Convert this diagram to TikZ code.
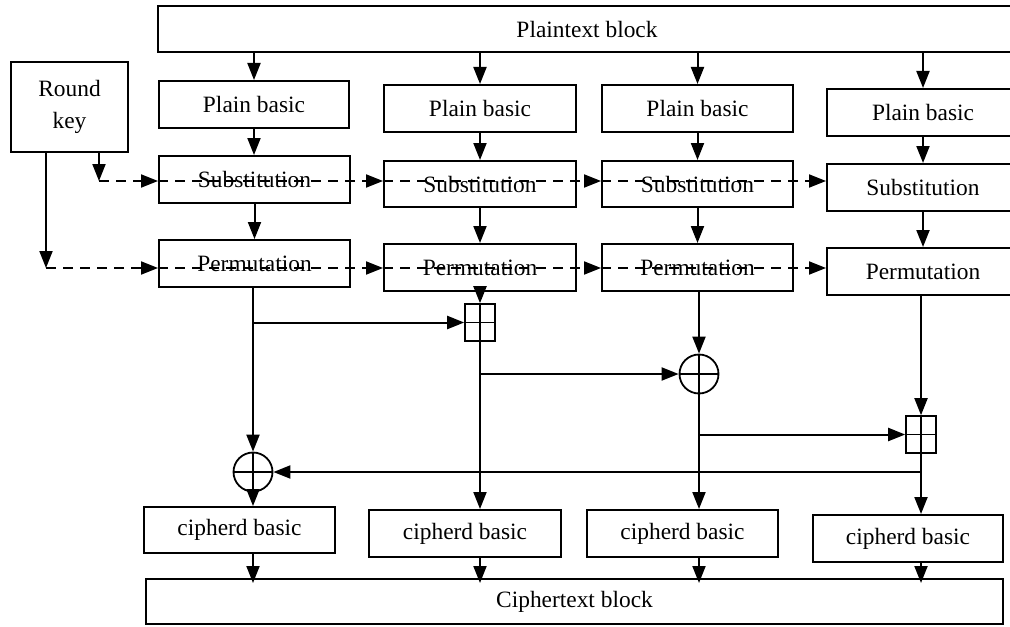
\documentclass[tikz,border=0pt]{standalone}
\usepackage{fontspec}
\setmainfont{Liberation Serif}
\usetikzlibrary{arrows.meta,calc}
\newcommand\bx[6]{\node[bx,minimum width={(#4-#2)*0.5pt},minimum height={(#5-#3)*0.5pt}] (#1) at ({(#2+#4)/2},{(#3+#5)/2}) {#6};}
\tikzset{
  crosspic/.style={path picture={\draw[line width=0.8pt] (path picture bounding box.north) -- (path picture bounding box.south) (path picture bounding box.west) -- (path picture bounding box.east);}}
}
\begin{document}
\begin{tikzpicture}[x=0.5pt,y=-0.5pt,
  bx/.style={draw,line width=1pt,inner sep=0pt,align=center,font=\fontsize{11.7}{16}\selectfont},
  arr/.style={line width=1pt,-{Triangle[length=8.5pt,width=6.5pt]}},
  dsh/.style={dash pattern=on 5pt off 3.5pt},
  oplus/.style={circle,draw,line width=0.9pt,minimum size=19.5pt,inner sep=0pt,crosspic},
  boxplus/.style={rectangle,draw,line width=0.8pt,minimum width=15pt,minimum height=18.5pt,inner sep=0pt,crosspic}
]
\useasboundingbox (0,0) rectangle (1010,626);
\clip (0,0) rectangle (1010,626);
\bx{PT}{158}{6}{1016}{52}{Plaintext block}
\bx{RK}{11}{62}{128}{152}{Round\\key}
\bx{PB1}{159}{81}{349}{128}{Plain basic}
\bx{SB1}{159}{156}{350}{203}{Substitution}
\bx{PM1}{159}{240}{350}{287}{Permutation}
\bx{PB2}{384}{85}{576}{132}{Plain basic}
\bx{SB2}{384}{161}{576}{207}{Substitution}
\bx{PM2}{384}{244}{576}{291}{Permutation}
\bx{PB3}{602}{85}{793}{132}{Plain basic}
\bx{SB3}{602}{161}{793}{207}{Substitution}
\bx{PM3}{602}{244}{793}{291}{Permutation}
\bx{PB4}{827}{89}{1019}{136}{Plain basic}
\bx{SB4}{827}{164}{1019}{211}{Substitution}
\bx{PM4}{827}{248}{1019}{295}{Permutation}
\bx{C1}{144}{507}{335}{553}{cipherd basic}
\bx{C2}{369}{510}{561}{557}{cipherd basic}
\bx{C3}{587}{510}{778}{557}{cipherd basic}
\bx{C4}{813}{515}{1003}{562}{cipherd basic}
\bx{CT}{146}{579}{1003}{624}{Ciphertext block}
\node[boxplus] (Q2) at (480,322.5) {};
\node[oplus] (X3) at (699,374) {};
\node[boxplus] (Q4) at (921,434.5) {};
\node[oplus] (X1) at (253,472) {};
% plaintext to columns
\foreach \i in {1,2,3,4}{
  \draw[arr] (PB\i.north |- PT.south) -- (PB\i.north);
  \draw[arr] (PB\i.south) -- (PB\i.south |- SB\i.north);
  \draw[arr] (SB\i.south) -- (SB\i.south |- PM\i.north);
}
% column 1
\draw[arr] (X1.north |- PM1.south) -- (X1.north);
\draw[arr] (X1.north |- Q2.west) -- (Q2.west);
\draw[arr] (X1.south) -- (X1.south |- C1.north);
% column 2
\draw[arr] (Q2.north |- PM2.south) -- (Q2.north);
\draw[arr] (Q2.south) -- (Q2.south |- C2.north);
\draw[arr] (Q2.south |- X3.west) -- (X3.west);
% column 3
\draw[arr] (X3.north |- PM3.south) -- (X3.north);
\draw[arr] (X3.south) -- (X3.south |- C3.north);
\draw[arr] (X3.south |- Q4.west) -- (Q4.west);
% column 4
\draw[arr] (Q4.north |- PM4.south) -- (Q4.north);
\draw[arr] (Q4.south) -- (Q4.south |- C4.north);
\draw[arr] (Q4.south |- X1.east) -- (X1.east);
% to ciphertext
\draw[arr,shorten >=-2.5pt] (X1.south |- C1.south) -- (X1.south |- CT.north);
\draw[arr,shorten >=-2.5pt] (Q2.south |- C2.south) -- (Q2.south |- CT.north);
\draw[arr,shorten >=-2.5pt] (X3.south |- C3.south) -- (X3.south |- CT.north);
\draw[arr,shorten >=-2.5pt] (Q4.south |- C4.south) -- (Q4.south |- CT.north);
% round key
\coordinate (k1) at (99,181);
\coordinate (k2) at (46,268);
\draw[arr] (RK.south -| k1) -- (k1);
\draw[arr] (RK.south -| k2) -- (k2);
\draw[arr,dsh] (k1) -- (SB1.west |- k1);
\draw[arr,dsh] (SB1.west |- k1) -- (SB2.west |- k1);
\draw[arr,dsh] (SB2.west |- k1) -- (SB3.west |- k1);
\draw[arr,dsh] (SB3.west |- k1) -- (SB4.west |- k1);
\draw[arr,dsh] (k2) -- (PM1.west |- k2);
\draw[arr,dsh] (PM1.west |- k2) -- (PM2.west |- k2);
\draw[arr,dsh] (PM2.west |- k2) -- (PM3.west |- k2);
\draw[arr,dsh] (PM3.west |- k2) -- (PM4.west |- k2);
\end{tikzpicture}
\end{document}
